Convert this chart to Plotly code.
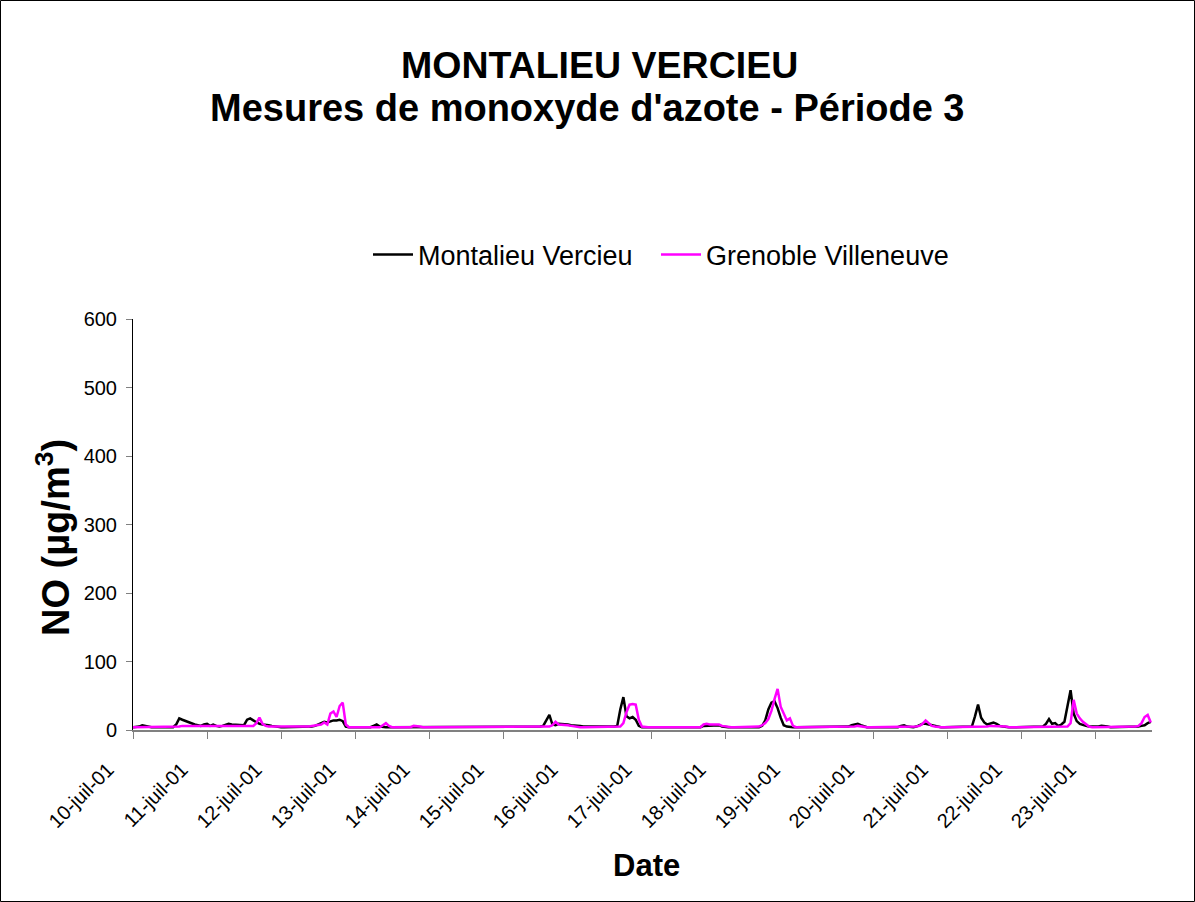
import pandas as pd
import plotly.graph_objects as go

# ---------------- data (hourly NO, µg/m3) ----------------
start_time = "2001-07-10 00:00"

montalieu_d10 = [4, 4, 5, 7, 6, 4, 4, 4, 4, 4, 4, 4, 4, 4, 8, 17, 15, 13, 11, 9, 8, 7, 6, 8]
montalieu_d11 = [9, 6, 8, 6, 5, 6, 8, 9, 8, 8, 7, 8, 7, 15, 17, 14, 11, 9, 8, 8, 7, 6, 5, 4]
montalieu_d12 = [4, 4, 4, 4, 4, 4, 4, 4, 4, 4, 5, 6, 8, 10, 12, 11, 13, 14, 14, 15, 13, 5, 4, 4]
montalieu_d13 = [4, 4, 4, 4, 4, 4, 6, 8, 5, 4, 4, 4, 4, 4, 4, 4, 4, 4, 4, 4, 4, 4, 4, 4]
montalieu_d14 = [4, 4, 4, 4, 4, 4, 4, 4, 4, 4, 4, 4, 4, 4, 4, 4, 4, 4, 4, 4, 4, 4, 4, 4]
montalieu_d15 = [4, 4, 4, 4, 4, 4, 4, 4, 4, 4, 4, 4, 5, 6, 14, 22, 8, 7, 9, 9, 8, 8, 7, 7]
montalieu_d16 = [6, 6, 5, 5, 4, 4, 4, 4, 4, 4, 4, 4, 5, 6, 30, 48, 20, 17, 19, 15, 6, 4, 4, 4]
montalieu_d17 = [4, 4, 4, 4, 4, 4, 4, 4, 4, 4, 4, 4, 4, 4, 4, 4, 4, 6, 6, 7, 6, 6, 7, 5]
montalieu_d18 = [4, 4, 4, 4, 4, 4, 4, 4, 4, 4, 4, 4, 6, 14, 30, 40, 42, 32, 18, 7, 5, 4, 4, 4]
montalieu_d19 = [4, 4, 4, 4, 4, 4, 4, 4, 4, 4, 4, 4, 4, 4, 4, 4, 5, 7, 8, 9, 7, 5, 4, 4]
montalieu_d20 = [4, 4, 4, 4, 4, 4, 4, 4, 4, 6, 7, 5, 4, 4, 5, 7, 9, 9, 8, 6, 5, 4, 4, 4]
montalieu_d21 = [4, 4, 4, 4, 4, 4, 4, 4, 5, 20, 37, 18, 11, 8, 9, 11, 9, 6, 5, 4, 4, 4, 4, 4]
montalieu_d22 = [4, 4, 4, 4, 4, 4, 4, 5, 9, 16, 9, 10, 6, 8, 12, 36, 58, 24, 13, 9, 7, 6, 5, 5]
montalieu_d23 = [4, 5, 6, 6, 5, 4, 4, 4, 4, 4, 4, 4, 4, 5, 5, 6, 7, 10, 12]

grenoble_d10 = [4, 4, 4, 4, 4, 4, 4, 4, 4, 4, 4, 4, 4, 4, 5, 5, 6, 6, 6, 6, 5, 5, 5, 5]
grenoble_d11 = [5, 5, 5, 5, 5, 5, 5, 5, 5, 5, 5, 5, 5, 5, 5, 6, 10, 18, 9, 6, 5, 5, 4, 4]
grenoble_d12 = [4, 4, 4, 4, 4, 4, 4, 4, 4, 5, 6, 7, 7, 8, 11, 8, 24, 27, 19, 35, 40, 8, 4, 4]
grenoble_d13 = [4, 4, 4, 4, 4, 4, 4, 4, 4, 7, 10, 6, 4, 4, 4, 4, 4, 4, 4, 6, 6, 5, 4, 4]
grenoble_d14 = [4, 4, 4, 4, 4, 5, 5, 4, 4, 4, 4, 4, 4, 4, 4, 4, 4, 4, 4, 4, 4, 4, 4, 4]
grenoble_d15 = [4, 4, 4, 4, 4, 4, 4, 4, 4, 4, 4, 4, 4, 4, 4, 5, 7, 12, 8, 8, 8, 7, 6, 5]
grenoble_d16 = [5, 4, 4, 4, 4, 4, 4, 4, 4, 4, 4, 4, 4, 4, 5, 10, 26, 37, 38, 37, 15, 5, 4, 4]
grenoble_d17 = [4, 4, 4, 4, 5, 4, 4, 4, 5, 4, 4, 4, 4, 4, 4, 4, 4, 8, 9, 8, 8, 9, 8, 6]
grenoble_d18 = [5, 4, 4, 4, 4, 4, 4, 4, 4, 4, 4, 5, 7, 10, 16, 28, 45, 60, 34, 24, 14, 17, 6, 4]
grenoble_d19 = [4, 4, 4, 4, 4, 4, 4, 4, 4, 4, 4, 4, 4, 4, 4, 4, 4, 4, 5, 6, 5, 4, 4, 4]
grenoble_d20 = [4, 4, 4, 4, 4, 4, 4, 4, 4, 4, 4, 4, 4, 4, 5, 6, 9, 14, 10, 6, 5, 4, 4, 4]
grenoble_d21 = [4, 4, 4, 4, 4, 4, 4, 4, 4, 4, 4, 5, 5, 5, 6, 6, 6, 5, 5, 5, 4, 4, 4, 4]
grenoble_d22 = [4, 4, 4, 4, 4, 4, 4, 4, 4, 4, 4, 4, 4, 4, 4, 5, 10, 44, 24, 17, 12, 8, 5, 4]
grenoble_d23 = [4, 4, 4, 4, 4, 4, 4, 4, 4, 4, 4, 4, 4, 5, 6, 10, 19, 22, 11]

tick_dates = ["2001-07-%02d" % d for d in range(10, 24)]
tick_labels = ["%d-juil-01" % d for d in range(10, 24)]
x_end = "2001-07-23 18:24"

series_names = ["Montalieu Vercieu", "Grenoble Villeneuve"]

montalieu = (montalieu_d10 + montalieu_d11 + montalieu_d12 + montalieu_d13 + montalieu_d14
             + montalieu_d15 + montalieu_d16 + montalieu_d17 + montalieu_d18 + montalieu_d19
             + montalieu_d20 + montalieu_d21 + montalieu_d22 + montalieu_d23)
grenoble = (grenoble_d10 + grenoble_d11 + grenoble_d12 + grenoble_d13 + grenoble_d14
            + grenoble_d15 + grenoble_d16 + grenoble_d17 + grenoble_d18 + grenoble_d19
            + grenoble_d20 + grenoble_d21 + grenoble_d22 + grenoble_d23)
times = pd.date_range(start_time, periods=len(montalieu), freq="h")

# ---------------- layout geometry ----------------
W, H = 1195, 902
L, R, T, B = 133, 43, 319, 172
PW, PH = W - L - R, H - T - B


def px(xp):
    return (xp - L) / PW


def py(yp):
    return (H - B - yp) / PH


FONT = "Liberation Sans, Arial, sans-serif"

fig = go.Figure()
fig.add_trace(go.Scatter(x=times, y=montalieu, mode="lines", name=series_names[0],
                         line=dict(color="#000000", width=2.5), legend="legend"))
fig.add_trace(go.Scatter(x=times, y=grenoble, mode="lines", name=series_names[1],
                         line=dict(color="#FF00FF", width=2.5), legend="legend2"))

legend_style = dict(orientation="h", xanchor="left", y=py(255), yanchor="middle",
                    font=dict(size=27, family=FONT), bgcolor="rgba(0,0,0,0)", itemwidth=40)

fig.update_layout(
    width=W, height=H,
    margin=dict(l=L, r=R, t=T, b=B, autoexpand=False),
    paper_bgcolor="white", plot_bgcolor="white",
    font=dict(family=FONT, color="black", size=20),
    showlegend=True,
    legend=dict(x=px(368), **legend_style),
    legend2=dict(x=px(656), **legend_style),
    xaxis=dict(type="date", range=[start_time, x_end], tickvals=tick_dates, ticktext=tick_labels,
               tickangle=-45, ticks="outside", ticklen=7, tickcolor="#808080", tickwidth=1,
               ticklabelstandoff=11, ticklabelshift=-25,
               showline=True, linecolor="#808080", linewidth=2, showgrid=False, zeroline=False,
               tickfont=dict(size=20, family=FONT)),
    yaxis=dict(range=[0, 600], tick0=0, dtick=100, ticks="outside", ticklen=6, tickcolor="#808080",
               ticklabelstandoff=5,
               showline=True, linecolor="black", linewidth=1, showgrid=False, zeroline=False,
               tickfont=dict(size=20, family=FONT)),
    shapes=[dict(type="rect", xref="paper", yref="paper", x0=px(0.5), x1=px(W - 0.5),
                 y0=py(H - 0.5), y1=py(0.5), line=dict(color="black", width=1), layer="below")],
    annotations=[
        dict(text="<b>MONTALIEU VERCIEU</b>", xref="paper", yref="paper", x=px(599), y=py(65),
             xanchor="center", yanchor="middle", showarrow=False, font=dict(size=37.5, family=FONT)),
        dict(text="<b>Mesures de monoxyde d'azote - Période 3</b>", xref="paper", yref="paper",
             x=px(587), y=py(108), xanchor="center", yanchor="middle", showarrow=False,
             font=dict(size=38, family=FONT)),
        dict(text="<b>NO (µg/m<sup>3</sup>)</b>", xref="paper", yref="paper", x=px(53), y=py(538),
             xanchor="center", yanchor="middle", textangle=-90, showarrow=False,
             font=dict(size=38, family=FONT)),
        dict(text="<b>Date</b>", xref="paper", yref="paper", x=px(646), y=py(865),
             xanchor="center", yanchor="middle", showarrow=False, font=dict(size=31, family=FONT)),
    ],
)

fig.write_html("out.html", post_script="document.body.style.margin='0px';",
               config={"displayModeBar": False})
